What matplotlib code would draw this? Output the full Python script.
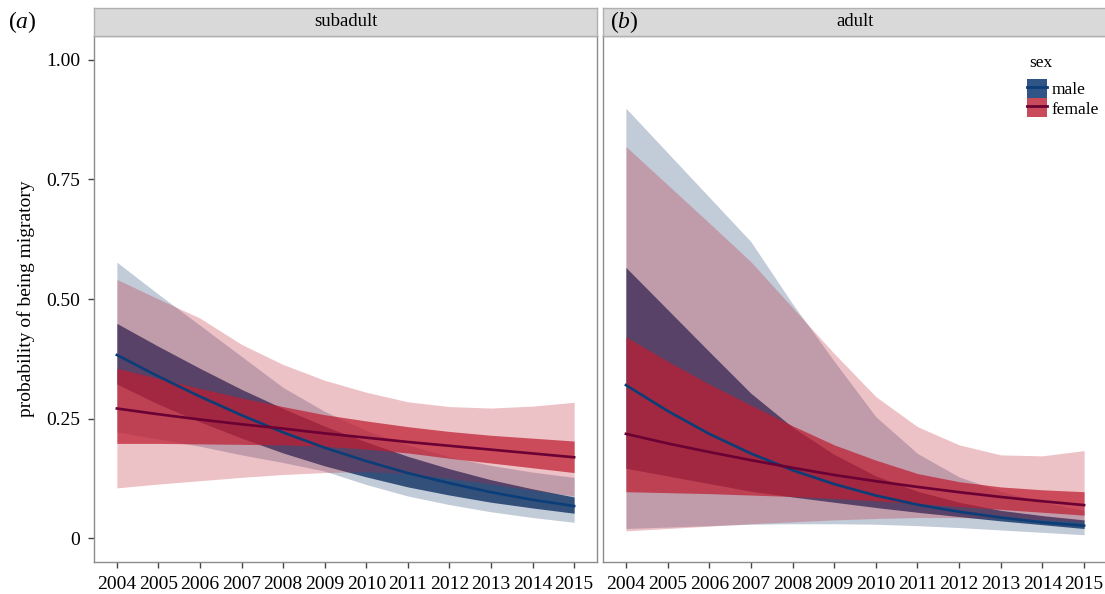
import matplotlib.pyplot as plt
from matplotlib.lines import Line2D
from matplotlib.patches import Patch
from matplotlib.legend_handler import HandlerTuple

plt.rcParams['font.family'] = 'Liberation Serif'
plt.rcParams['mathtext.fontset'] = 'custom'
plt.rcParams['mathtext.it'] = 'Liberation Serif:italic'
plt.rcParams['mathtext.rm'] = 'Liberation Serif'

years = list(range(2004, 2016))
year_labels = [str(y) for y in years]
y_ticks = [0, 0.25, 0.50, 0.75, 1.00]
y_tick_labels = ['0', '0.25', '0.50', '0.75', '1.00']
panels = ['subadult', 'adult']
tags = ['a', 'b']

# subadult
sub_male_line = [0.383, 0.338, 0.296, 0.257, 0.221, 0.189, 0.161, 0.136, 0.115, 0.096, 0.080, 0.067]
sub_male_in_hi = [0.449, 0.401, 0.355, 0.311, 0.271, 0.234, 0.201, 0.171, 0.145, 0.122, 0.103, 0.086]
sub_male_in_lo = [0.322, 0.280, 0.243, 0.209, 0.178, 0.151, 0.128, 0.107, 0.090, 0.075, 0.063, 0.052]
sub_male_out_hi = [0.577, 0.510, 0.445, 0.380, 0.315, 0.265, 0.225, 0.195, 0.170, 0.152, 0.138, 0.127]
sub_male_out_lo = [0.222, 0.207, 0.192, 0.174, 0.158, 0.140, 0.112, 0.088, 0.070, 0.055, 0.043, 0.033]

sub_fem_line = [0.271, 0.259, 0.248, 0.238, 0.229, 0.219, 0.210, 0.201, 0.193, 0.185, 0.177, 0.169]
sub_fem_in_hi = [0.355, 0.334, 0.313, 0.293, 0.275, 0.258, 0.245, 0.233, 0.223, 0.215, 0.209, 0.203]
sub_fem_in_lo = [0.198, 0.198, 0.197, 0.196, 0.195, 0.192, 0.186, 0.178, 0.167, 0.157, 0.147, 0.137]
sub_fem_out_hi = [0.541, 0.500, 0.460, 0.405, 0.363, 0.330, 0.305, 0.285, 0.275, 0.272, 0.276, 0.284]
sub_fem_out_lo = [0.105, 0.113, 0.120, 0.127, 0.133, 0.137, 0.139, 0.135, 0.125, 0.113, 0.100, 0.088]

# adult
ad_male_line = [0.320, 0.266, 0.218, 0.177, 0.142, 0.113, 0.089, 0.070, 0.055, 0.043, 0.033, 0.026]
ad_male_in_hi = [0.566, 0.478, 0.390, 0.303, 0.232, 0.175, 0.130, 0.098, 0.075, 0.058, 0.047, 0.038]
ad_male_in_lo = [0.146, 0.130, 0.114, 0.098, 0.086, 0.075, 0.064, 0.054, 0.045, 0.036, 0.028, 0.020]
ad_male_out_hi = [0.899, 0.806, 0.713, 0.620, 0.490, 0.370, 0.254, 0.177, 0.128, 0.098, 0.075, 0.058]
ad_male_out_lo = [0.020, 0.023, 0.026, 0.029, 0.030, 0.030, 0.029, 0.026, 0.022, 0.017, 0.012, 0.007]

ad_fem_line = [0.218, 0.198, 0.180, 0.163, 0.147, 0.132, 0.119, 0.107, 0.096, 0.086, 0.077, 0.069]
ad_fem_in_hi = [0.421, 0.370, 0.322, 0.278, 0.235, 0.195, 0.163, 0.135, 0.118, 0.107, 0.101, 0.097]
ad_fem_in_lo = [0.097, 0.095, 0.093, 0.090, 0.087, 0.083, 0.078, 0.072, 0.066, 0.060, 0.054, 0.048]
ad_fem_out_hi = [0.819, 0.739, 0.659, 0.578, 0.482, 0.386, 0.296, 0.233, 0.195, 0.174, 0.172, 0.183]
ad_fem_out_lo = [0.015, 0.020, 0.025, 0.030, 0.034, 0.038, 0.041, 0.043, 0.043, 0.041, 0.038, 0.034]

male_fill = '#0f3264'
fem_fill = '#be1e32'
male_line_col = '#0b3d78'
fem_line_col = '#6a0033'
male_key = '#2f5587'
fem_key = '#c94a5a'
border = '#8c8c8c'

fig = plt.figure(figsize=(11.05, 5.94), dpi=100)
W, H = 1105, 594


def draw_panel(x0, x1, name, male, fem, ylab):
    ax = fig.add_axes([x0 / W, (H - 562) / H, (x1 - x0) / W, 526 / H])
    strip = fig.add_axes([x0 / W, (H - 36) / H, (x1 - x0) / W, 28 / H])

    m_line, m_in_hi, m_in_lo, m_out_hi, m_out_lo = male
    f_line, f_in_hi, f_in_lo, f_out_hi, f_out_lo = fem
    ax.fill_between(years, m_out_lo, m_out_hi, color=male_fill, alpha=0.25, lw=0)
    ax.fill_between(years, m_in_lo, m_in_hi, color=male_fill, alpha=0.8, lw=0)
    ax.fill_between(years, f_out_lo, f_out_hi, color=fem_fill, alpha=0.27, lw=0)
    ax.fill_between(years, f_in_lo, f_in_hi, color=fem_fill, alpha=0.72, lw=0)
    ax.plot(years, m_line, color=male_line_col, lw=1.9)
    ax.plot(years, f_line, color=fem_line_col, lw=1.9)

    ax.set_xlim(2004 - 0.55, 2015 + 0.55)
    ax.set_ylim(-0.05, 1.05)
    ax.set_xticks(years)
    ax.set_xticklabels(year_labels, fontsize=14)
    ax.set_yticks(y_ticks)
    ax.set_yticklabels(y_tick_labels if ylab else [], fontsize=14)
    ax.tick_params(color='#444444', length=4, width=1, pad=6)
    for s in ax.spines.values():
        s.set_color(border)
        s.set_linewidth(1.0)
    if ylab:
        ax.set_ylabel('probability of being migratory', fontsize=14, labelpad=8)
    else:
        ax.tick_params(axis='y', length=0)

    strip.set_facecolor('#d9d9d9')
    strip.set_xticks([])
    strip.set_yticks([])
    for s in strip.spines.values():
        s.set_color('#b0b0b0')
        s.set_linewidth(1.0)
    strip.text(0.5, 0.5, name, ha='center', va='center', fontsize=13.5,
               transform=strip.transAxes)
    return ax


draw_panel(94, 597, panels[0],
           (sub_male_line, sub_male_in_hi, sub_male_in_lo, sub_male_out_hi, sub_male_out_lo),
           (sub_fem_line, sub_fem_in_hi, sub_fem_in_lo, sub_fem_out_hi, sub_fem_out_lo), True)
draw_panel(603, 1107, panels[1],
           (ad_male_line, ad_male_in_hi, ad_male_in_lo, ad_male_out_hi, ad_male_out_lo),
           (ad_fem_line, ad_fem_in_hi, ad_fem_in_lo, ad_fem_out_hi, ad_fem_out_lo), False)

fig.text(8 / W, 1 - 22 / H, r'($\mathit{%s}$)' % tags[0], fontsize=17, va='center', ha='left')
fig.text(610 / W, 1 - 22 / H, r'($\mathit{%s}$)' % tags[1], fontsize=17, va='center', ha='left')

# legend title placed on its own, ggplot leaves a larger gap under it
fig.text(1029 / W, 1 - 63 / H, 'sex', fontsize=12.5, va='center', ha='left')
handles = [(Patch(facecolor=male_key), Line2D([], [], color=male_line_col, lw=2)),
           (Patch(facecolor=fem_key), Line2D([], [], color=fem_line_col, lw=2))]
fig.legend(handles, ['male', 'female'], loc='upper left',
           bbox_to_anchor=(1024 / W, 1 - 76 / H), borderaxespad=0, frameon=False,
           fontsize=12.5, handlelength=1.15, handleheight=1.25,
           handletextpad=0.25, labelspacing=0.0, borderpad=0.2,
           handler_map={tuple: HandlerTuple(ndivide=1)})

fig.savefig('out.png', dpi=100)
